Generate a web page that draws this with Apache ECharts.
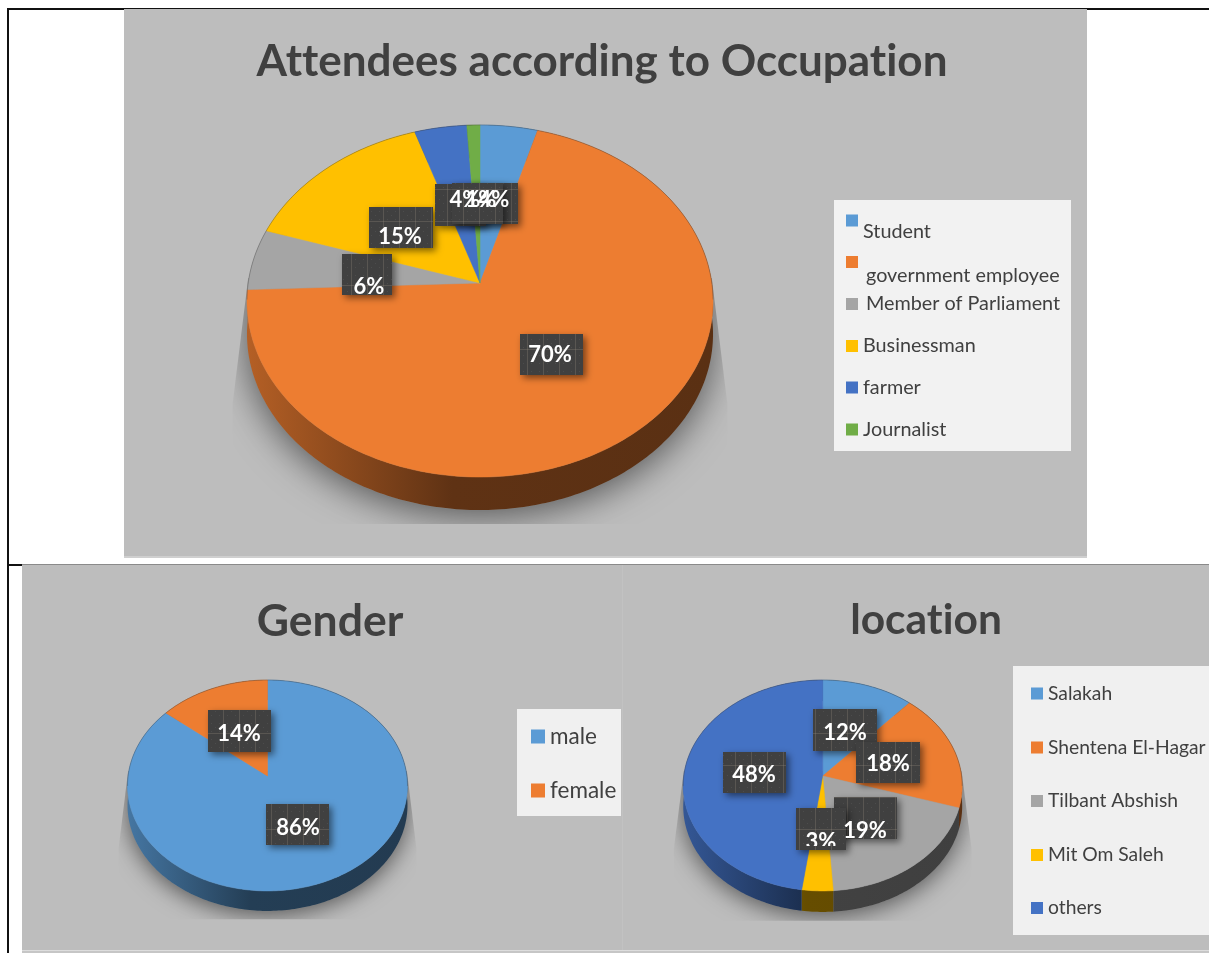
<!DOCTYPE html>
<html>
<head>
<meta charset="utf-8">
<title>Attendees</title>
<style>
  html, body { margin: 0; padding: 0; background: #fff; }
  #main { width: 1209px; height: 953px; }
</style>
<script src="https://cdn.jsdelivr.net/npm/echarts@6/dist/echarts.min.js"></script>
</head>
<body>
<div id="main"></div>
<script>
'use strict';

// values (labels show them rounded)
const occupationNames = ['Student', 'government employee', 'Member of Parliament', 'Businessman', 'farmer', 'Journalist'];
const occupationValues = [4.4, 70, 5.6, 15, 4, 1];

const genderNames = ['male', 'female'];
const genderValues = [86, 14];

const locationNames = ['Salakah', 'Shentena El-Hagar', 'Tilbant Abshish', 'Mit Om Saleh', 'others'];
const locationValues = [11.6, 18.2, 19.1, 3.3, 47.8];

// colours
const occupationColors = ['#5B9BD5', '#ED7D31', '#A5A5A5', '#FFC000', '#4472C4', '#70AD47'];
const genderColors = ['#5B9BD5', '#ED7D31'];
const locationColors = ['#5B9BD5', '#ED7D31', '#A5A5A5', '#FFC000', '#4472C4'];

const FONT = 'Lato';
const TEXT_COLOR = '#404040';

// pie geometry: apex (cx, cy), projected radii, perspective k, wall depth
const occupationPie = { cx: 480, cy: 283, rx: 231.8, ry: 174.2, k: 0.1023, depth: 33 };
const genderPie = { cx: 267.5, cy: 776, rx: 139.4, ry: 104.6, k: 0.09, depth: 20 };
const locationPie = { cx: 822.7, cy: 776, rx: 138.9, ry: 104.6, k: 0.09, depth: 21 };

// data label boxes [x, y, w, h, textX, textY, textClipHeight]
const occupationBoxes = [
    [468, 183, 50, 41, 494, 200],
    [520, 334, 63, 41, 550, 355],
    [342, 254, 50, 41, 369, 287],
    [369, 207, 64, 41, 400, 237],
    [435, 184, 51, 42, 465, 200],
    [452, 183, 51, 41, 481, 200]
];
const genderBoxes = [
    [266, 804, 63, 41, 298, 828],
    [208, 710, 63, 42, 239, 734]
];
const locationBoxes = [
    [813, 709, 64, 42, 845, 733],
    [856, 742, 64, 41, 888, 764],
    [834, 797, 63, 42, 865, 831],
    [796, 808, 50, 42, 821, 842, 38],
    [723, 752, 63, 41, 754, 775]
];

// legend rows [markerCenterY, textDropBelowMarker, extraTextLeft]
const occupationLegendRows = [[220.5, 11, 0], [262, 13.5, 3], [304, 0, 3], [346, 0, 0], [387.5, 0, 0], [429.5, 0, 0]];
const genderLegendRows = [[736.5, 0, 0], [790.5, 0, 0]];
const locationLegendRows = [[693.5, 0, 0], [747.5, 0, 0], [801, 0, 0], [855, 0, 0], [908, 0, 0]];

const shade = (hex, f) => {
    const n = parseInt(hex.slice(1), 16);
    const c = [n >> 16 & 255, n >> 8 & 255, n & 255].map(v => Math.round(v * f));
    return `rgb(${c[0]},${c[1]},${c[2]})`;
};

// perspective of a flat disc: angle clockwise from 12 o'clock -> screen point
const project = (pie, angle) => {
    const u = Math.sin(angle);
    const v = Math.cos(angle);
    const w = 1 + pie.k * v;
    return [pie.cx + pie.rx * u / w, pie.cy - pie.ry * v / w];
};

const arcPoints = (pie, from, to) => {
    const steps = Math.max(2, Math.ceil(Math.abs(to - from) / (Math.PI / 180)));
    const points = [];
    for (let i = 0; i <= steps; i++) {
        points.push(project(pie, from + (to - from) * i / steps));
    }
    return points;
};

// texture of the label boxes
const makeTexture = () => {
    const canvas = document.createElement('canvas');
    canvas.width = 16;
    canvas.height = 32;
    const ctx = canvas.getContext('2d');
    ctx.fillStyle = '#404040';
    ctx.fillRect(0, 0, 16, 32);
    ctx.fillStyle = '#4c4c4c';
    [[3, 3], [11, 3], [7, 7], [3, 11], [11, 11], [3, 19], [11, 19], [7, 23], [3, 27], [11, 27]].forEach(p => ctx.fillRect(p[0], p[1], 1, 1));
    ctx.fillStyle = 'rgba(150,140,125,0.3)';
    ctx.fillRect(15, 0, 1, 32);
    ctx.fillRect(0, 29, 16, 1);
    return canvas;
};
const texture = makeTexture();

// drop shadow under one pie, cut off like the original
const shadowElement = pie => {
    const left = project(pie, -Math.PI / 2);
    const right = project(pie, Math.PI / 2);
    const spread = pie.depth * 0.47;
    const drop = pie.depth * 0.42;
    const bottom = project(pie, Math.PI)[1] + pie.depth + drop;
    const knee = pie.cy + (bottom - pie.cy) * 0.5;
    const outline = arcPoints(pie, -Math.PI * 0.55, Math.PI * 0.55)
        .concat(arcPoints(pie, Math.PI * 0.55, Math.PI * 1.45).map(p => [p[0], p[1] + pie.depth]));
    return {
        type: 'polygon',
        z2: 1,
        shape: { points: outline },
        style: {
            fill: '#8f8f8f',
            shadowColor: 'rgba(0,0,0,0.55)',
            shadowBlur: pie.depth * 1.1,
            shadowOffsetY: pie.depth * 0.2
        },
        clipPath: {
            type: 'polygon',
            shape: {
                points: [
                    [left[0], left[1] - 5],
                    [left[0] - spread, knee],
                    [left[0] - spread, bottom],
                    [right[0] + spread, bottom],
                    [right[0] + spread, knee],
                    [right[0], right[1] - 5]
                ]
            }
        }
    };
};

const backEdgeElement = pie => ({
    type: 'polyline',
    z2: 4,
    shape: { points: arcPoints(pie, -Math.PI * 0.53, Math.PI * 0.53) },
    style: { fill: null, stroke: 'rgba(70,70,70,0.35)', lineWidth: 1 }
});

// one custom series per slice so that the legend can pick it up by name
const pieSeries = (names, values, colors, pie, boxes) => {
    const total = values.reduce((a, b) => a + b, 0);
    let start = 0;
    return names.map((name, i) => {
        const from = start / total * Math.PI * 2;
        start += values[i];
        const to = start / total * Math.PI * 2;
        const color = colors[i];
        const left = pie.cx - pie.rx;
        const right = pie.cx + pie.rx;
        return {
            type: 'custom',
            name,
            coordinateSystem: 'none',
            silent: true,
            itemStyle: { color },
            data: [[values[i]]],
            renderItem: (params, api) => {
                const percent = Math.round(api.value(0) / total * 100) + '%';
                const arc = arcPoints(pie, from, to);
                const wall = arc.concat(arc.slice().reverse().map(p => [p[0], p[1] + pie.depth]));
                const box = boxes[i];
                const children = [
                    {
                        type: 'polygon',
                        z2: 2,
                        shape: { points: wall },
                        style: {
                            stroke: null,
                            fill: {
                                type: 'linear', global: true, x: left, y: 0, x2: right, y2: 0,
                                colorStops: [
                                    { offset: 0, color: shade(color, 0.76) },
                                    { offset: 0.44, color: shade(color, 0.4) },
                                    { offset: 1, color: shade(color, 0.38) }
                                ]
                            }
                        }
                    },
                    {
                        type: 'polygon',
                        z2: 3,
                        shape: { points: [[pie.cx, pie.cy]].concat(arc) },
                        style: { fill: color, stroke: color, lineWidth: 0.5 }
                    },
                    {
                        type: 'rect',
                        z2: 10 + i,
                        shape: { x: box[0], y: box[1], width: box[2], height: box[3] },
                        style: {
                            fill: { image: texture, repeat: 'repeat' },
                            shadowColor: 'rgba(0,0,0,0.5)',
                            shadowBlur: 7,
                            shadowOffsetX: 3,
                            shadowOffsetY: 3
                        }
                    },
                    {
                        type: 'text',
                        z2: 30 + i,
                        style: {
                            x: box[4], y: box[5], text: percent,
                            fill: '#fff',
                            font: `bold 22px ${FONT}`,
                            align: 'center', verticalAlign: 'middle'
                        },
                        clipPath: {
                            type: 'rect',
                            shape: { x: box[0] - 4, y: box[1], width: box[2] + 8, height: box[6] || box[3] }
                        }
                    }
                ];
                if (i === 0) {
                    children.push(shadowElement(pie), backEdgeElement(pie));
                }
                return { type: 'group', children };
            }
        };
    });
};

// a legend per row, the rows of the original are not evenly spaced
// a blank first line pushes a label down from its marker (Student, government employee)
const legendRows = (names, rows, markerLeft, markerSize, fontSize) => names.map((name, i) => {
    const [centerY, drop, padLeft] = rows[i];
    const lineHeight = drop ? drop * 2 : fontSize + 6;
    const boxHeight = drop ? lineHeight * 2 : lineHeight;
    return {
        data: [name],
        left: markerLeft,
        top: centerY - boxHeight / 2,
        padding: 0,
        icon: 'rect',
        itemWidth: markerSize,
        itemHeight: markerSize,
        selectedMode: false,
        formatter: text => (drop ? '\n' + text : text),
        textStyle: {
            fontFamily: FONT,
            fontSize,
            color: TEXT_COLOR,
            lineHeight,
            padding: [0, 0, 0, padLeft]
        }
    };
});

const rectEl = (x, y, width, height, fill) => ({
    type: 'rect', z: 0, silent: true,
    shape: { x, y, width, height },
    style: { fill }
});

const titleItem = (text, left, top, fontSize) => ({
    text, left, top, textAlign: 'center', padding: 0,
    textStyle: { fontFamily: FONT, fontWeight: 'bold', fontSize, color: TEXT_COLOR }
});

const chart = echarts.init(document.getElementById('main'), null, { renderer: 'canvas' });

// the original font has no tt/ti ligatures
const layerCtx = chart.getZr().painter.getLayer(0).ctx;
if (layerCtx && 'textRendering' in layerCtx) {
    layerCtx.textRendering = 'optimizeSpeed';
}

chart.setOption({
    animation: false,
    backgroundColor: '#fff',
    title: [
        titleItem('Attendees according to Occupation', 602, 40, 44),
        titleItem('Gender', 330, 599, 44.5),
        titleItem('location', 926, 599, 42.5)
    ],
    legend: [
        ...legendRows(occupationNames, occupationLegendRows, 846, 12, 19.8),
        ...legendRows(genderNames, genderLegendRows, 531, 14, 22.5),
        ...legendRows(locationNames, locationLegendRows, 1031, 12, 19.3)
    ],
    graphic: [
        // page table lines
        rectEl(7, 8, 1202, 2, '#111'),
        rectEl(7, 8, 2, 945, '#111'),
        rectEl(9, 564, 1200, 1, '#8a8a8a'),
        rectEl(9, 564, 13, 2, '#111'),
        // panels
        rectEl(124, 9, 963, 549, '#BDBDBD'),
        rectEl(124, 556, 963, 2, '#CFCFCF'),
        rectEl(22, 565, 1187, 385, '#BDBDBD'),
        rectEl(622, 565, 1, 385, '#C2C2C2'),
        rectEl(22, 950, 1187, 1, '#DDDDDD'),
        rectEl(22, 951, 1187, 2, '#C6C6C6'),
        // legend backgrounds
        rectEl(834, 200, 237, 251, '#F2F2F2'),
        rectEl(517, 709, 104, 107, '#F0F0F0'),
        rectEl(1013, 666, 196, 269, '#F0F0F0')
    ],
    series: [
        ...pieSeries(occupationNames, occupationValues, occupationColors, occupationPie, occupationBoxes),
        ...pieSeries(genderNames, genderValues, genderColors, genderPie, genderBoxes),
        ...pieSeries(locationNames, locationValues, locationColors, locationPie, locationBoxes)
    ]
});
</script>
</body>
</html>
